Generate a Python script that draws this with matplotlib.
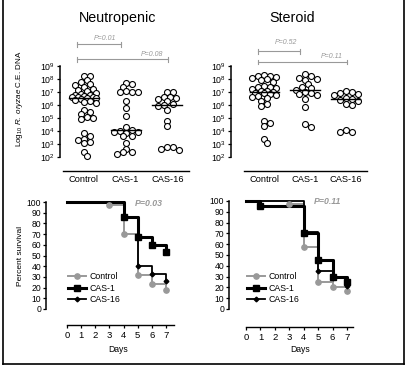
import numpy as np
import matplotlib
matplotlib.use('Agg')
import matplotlib.pyplot as plt
import matplotlib.transforms as mtransforms
from matplotlib.lines import Line2D
from matplotlib.ticker import NullLocator

plt.rcParams['font.family'] = ['Liberation Sans', 'DejaVu Sans']
plt.rcParams['mathtext.fontset'] = 'custom'
plt.rcParams['mathtext.rm'] = 'Liberation Sans'
plt.rcParams['mathtext.it'] = 'Liberation Sans:italic'
plt.rcParams['mathtext.bf'] = 'Liberation Sans:bold'

# ---- data: log10 R. oryzae C.E. DNA per animal ----
groups = ['Control', 'CAS-1', 'CAS-16']

neut_control = [8.25, 8.22, 7.9, 7.75, 7.58, 7.52, 7.42, 7.25, 7.15, 7.1, 6.9, 6.82,
                6.8, 6.75, 6.7, 6.65, 6.62, 6.58, 6.56, 6.54, 6.45, 6.42, 6.3, 6.22,
                6.15, 5.65, 5.5, 5.3, 5.08, 5.02, 4.9, 3.85, 3.6, 3.42, 3.3, 3.15,
                3.05, 2.4, 2.08]
neut_cas1 = [7.72, 7.6, 7.42, 7.05, 7.02, 7.0, 6.98, 6.3, 5.8, 5.17, 4.28, 4.05,
             4.0, 3.95, 3.92, 3.88, 3.62, 3.58, 3.1, 2.65, 2.42, 2.35, 2.2]
neut_cas16 = [7.0, 6.98, 6.65, 6.6, 6.55, 6.45, 6.3, 6.1, 6.0, 5.92, 5.65, 4.8,
              4.42, 2.8, 2.75, 2.6, 2.55]

ster_control = [8.3, 8.25, 8.22, 8.18, 8.05, 8.0, 7.9, 7.75, 7.45, 7.4, 7.35, 7.3,
                7.2, 7.1, 7.05, 7.0, 6.95, 6.9, 6.85, 6.75, 6.7, 6.6, 6.55, 6.3,
                6.05, 5.9, 4.8, 4.65, 4.4, 3.38, 3.05]
ster_cas1 = [8.35, 8.2, 8.1, 8.0, 7.95, 7.6, 7.4, 7.3, 7.15, 7.0, 6.9, 6.85, 6.8,
             6.45, 5.85, 4.55, 4.3]
ster_cas16 = [7.05, 7.0, 6.95, 6.85, 6.75, 6.55, 6.45, 6.4, 6.3, 6.1, 6.0, 4.1,
              3.95, 3.9]

neut_p = ['P=0.01', 'P=0.08']
ster_p = ['P=0.52', 'P=0.11']

# ---- data: survival (day of change, percent surviving) ----
neut_days_control = [0, 3, 4, 5, 6, 7]
neut_surv_control = [100, 97, 70, 32, 23, 18]
neut_days_cas1 = [0, 4, 5, 6, 7]
neut_surv_cas1 = [100, 86, 67, 60, 53]
neut_days_cas16 = [0, 4, 5, 6, 7]
neut_surv_cas16 = [100, 86, 40, 33, 26]

ster_days_control = [0, 3, 4, 5, 6, 7]
ster_surv_control = [100, 97, 57, 25, 20, 17]
ster_days_cas1 = [0, 1, 4, 5, 6, 7]
ster_surv_cas1 = [100, 95, 70, 45, 30, 25]
ster_days_cas16 = [0, 4, 5, 6, 7]
ster_surv_cas16 = [100, 71, 35, 29, 21]

neut_logrank = 'P=0.03'
ster_logrank = 'P=0.11'

W, H = 408, 368
GREY = '#999999'
fig = plt.figure(figsize=(W / 100, H / 100), dpi=100)


def box(x0, x1, ytop, ybot):
    return [x0 / W, 1 - ybot / H, (x1 - x0) / W, (ybot - ytop) / H]


def swarm(ax, xc, logs, diam, maxoff=12.0):
    # greedy beeswarm in pixel space, capped width so columns stay compact
    vals = 10.0 ** np.asarray(logs)
    disp = ax.transData.transform(np.column_stack([np.full(len(vals), float(xc)), vals]))
    placed = []
    xs = np.zeros(len(vals))
    step = diam * 0.5
    cands = [0.0]
    m = 1
    while m * step <= maxoff:
        cands += [m * step, -m * step]
        m += 1
    for i in np.argsort(-vals):
        x0, y0 = disp[i]
        best, bestd = 0.0, -1.0
        for off in cands:
            d = min([np.hypot(x0 + off - px, y0 - py) for px, py in placed] or [1e9])
            if d >= diam * 0.8:
                best = off
                break
            if d > bestd:
                best, bestd = off, d
        placed.append((x0 + best, y0))
        xs[i] = ax.transData.inverted().transform((x0 + best, y0))[0]
    return xs, vals


def dot_panel(rect, data, left_out, title, title_x, pvals, brackets):
    ax = fig.add_axes(rect)
    ax.set_yscale('log')
    ax.set_xlim(-0.5, 2.52)
    ax.set_ylim(1e2, 1e9)
    for s in ('top', 'right'):
        ax.spines[s].set_visible(False)
    ax.spines['left'].set_position(('outward', left_out * 0.72))
    ax.spines['bottom'].set_position(('outward', 14 * 0.72))
    ax.spines['left'].set_linewidth(1.1)
    ax.spines['bottom'].set_linewidth(1.0)
    ax.set_yticks([10.0 ** k for k in range(2, 10)])
    ax.yaxis.set_minor_locator(NullLocator())
    ax.tick_params(axis='y', length=2.5, width=0.9, labelsize=6.3, pad=1)
    ax.set_xticks(range(3))
    ax.set_xticklabels(groups)
    ax.tick_params(axis='x', length=0, labelsize=6.7, pad=3)
    fig.canvas.draw()
    for i, logs in enumerate(data):
        xs, vals = swarm(ax, i, logs, 6.0)
        ax.plot(xs, vals, 'o', ms=4.3, mfc='white', mec='black', mew=0.8,
                clip_on=False, zorder=3)
        med = 10.0 ** np.median(logs)
        ax.plot([i - 0.36, i + 0.36], [med, med], color='black', lw=1.0, zorder=4)
    fig.text(title_x / W, 1 - 18 / H, title, ha='center', va='center', fontsize=10.3)
    tr = mtransforms.blended_transform_factory(ax.transData, fig.transFigure)
    for label, (x0, x1, yb, xt, yt) in zip(pvals, brackets):
        yf = 1 - yb / H
        ax.plot([x0, x1], [yf, yf], transform=tr, color=GREY, lw=0.8, clip_on=False)
        for xx in (x0, x1):
            ax.plot([xx, xx], [yf - 2.5 / H, yf + 2.5 / H], transform=tr, color=GREY,
                    lw=0.8, clip_on=False)
        ax.text(xt, 1 - yt / H, label, transform=tr, ha='center', va='center',
                fontsize=5, color=GREY, style='italic')
    return ax


def surv_panel(rect, left_out, bottom_out, curves, ptext, pxy, days_x, legend_xy):
    ax = fig.add_axes(rect)
    ax.set_ylim(0, 100)
    for s in ('top', 'right'):
        ax.spines[s].set_visible(False)
    ax.spines['left'].set_position(('outward', left_out * 0.72))
    ax.spines['bottom'].set_position(('outward', bottom_out * 0.72))
    ax.spines['left'].set_linewidth(1.1)
    ax.spines['bottom'].set_linewidth(1.0)
    ax.set_yticks(range(0, 101, 10))
    ax.set_xticks(range(8))
    ax.tick_params(axis='y', length=2.5, width=0.9, labelsize=6.2, pad=1)
    ax.tick_params(axis='x', length=2.5, width=0.9, labelsize=6.8, pad=2)
    styles = [dict(color=GREY, lw=1.4, marker='o', ms=3.8),
              dict(color='black', lw=2.2, marker='s', ms=4.3),
              dict(color='black', lw=1.3, marker='D', ms=2.4)]
    handles = []
    for (days, surv), st, name in zip(curves, styles, groups):
        ax.step(days, surv, where='post', color=st['color'], lw=st['lw'],
                clip_on=False, zorder=2)
        ax.plot(days[1:], surv[1:], ls='none', marker=st['marker'], ms=st['ms'],
                color=st['color'], clip_on=False, zorder=3)
        handles.append(Line2D([], [], color=st['color'], lw=st['lw'],
                              marker=st['marker'], ms=st['ms'], label=name))
    ax.legend(handles=handles, loc='upper left', frameon=False, fontsize=6.3,
              bbox_to_anchor=(legend_xy[0] / W, 1 - legend_xy[1] / H),
              bbox_transform=fig.transFigure, borderpad=0, borderaxespad=0,
              handlelength=2.1, handletextpad=0.4, labelspacing=0.3, markerscale=1)
    fig.text(pxy[0] / W, 1 - pxy[1] / H, ptext, ha='center', va='center',
             fontsize=6.3, color=GREY, style='italic', weight='bold')
    fig.text(days_x / W, 1 - 350 / H, 'Days', ha='center', va='center', fontsize=6.2)
    return ax


# top row: fungal burden
dot_panel(box(63, 189, 66, 157), [neut_control, neut_cas1, neut_cas16], 3,
          'Neutropenic', 118, neut_p,
          [(-0.17, 0.89, 44, 0.5, 38), (-0.17, 2.02, 59, 1.64, 54)])
dot_panel(box(244, 367, 66, 157), [ster_control, ster_cas1, ster_cas16], 13,
          'Steroid', 292, ster_p,
          [(-0.15, 0.88, 51, 0.54, 43), (-0.15, 2.02, 62, 1.66, 57)])
fig.text(20 / W, 1 - 99 / H, r'Log$_{10}$ $\mathit{R.\ oryzae}$ C.E. DNA',
         rotation=90, ha='center', va='center', fontsize=5.8)

# bottom row: survival
axl = surv_panel(box(67, 174, 202, 309), 21, 16,
                 [(neut_days_control, neut_surv_control),
                  (neut_days_cas1, neut_surv_cas1),
                  (neut_days_cas16, neut_surv_cas16)],
                 neut_logrank, (149, 204), 118, (68, 272))
axl.set_xlim(0, 7.57)
axr = surv_panel(box(246, 353, 201, 309), 17, 18,
                 [(ster_days_control, ster_surv_control),
                  (ster_days_cas1, ster_surv_cas1),
                  (ster_days_cas16, ster_surv_cas16)],
                 ster_logrank, (328, 202), 300, (247, 272))
axr.set_xlim(0, 7.42)
fig.text(20 / W, 1 - 256 / H, 'Percent survival', rotation=90, ha='center',
         va='center', fontsize=6)

# outer frame
for xs_, ys_ in [([3, 3], [0, 364]), ([404, 404], [0, 364]), ([3, 404], [364, 364])]:
    fig.add_artist(Line2D([x / W for x in xs_], [1 - y / H for y in ys_],
                          color='black', lw=1.2, transform=fig.transFigure))

fig.savefig('out.png', dpi=100)
